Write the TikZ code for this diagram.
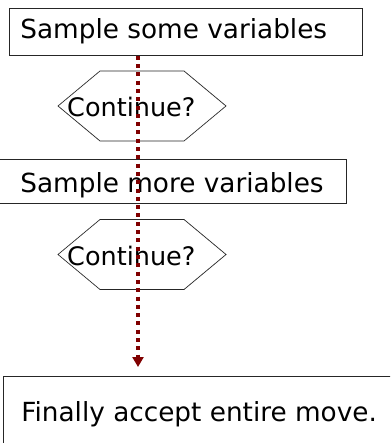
\documentclass[tikz,border=0pt]{standalone}
\usepackage{fontspec}
\setmainfont{DejaVu Sans}
\usetikzlibrary{arrows.meta}
\definecolor{darkred}{RGB}{128,0,0}

\begin{document}
\begin{tikzpicture}[x=1pt,y=-1pt,
  stage/.style={draw=black!85,line width=0.8pt,inner sep=0pt,anchor=north west,font=\fontsize{26.3}{30}\selectfont},
  query/.style={anchor=base west,inner sep=0pt,font=\fontsize{25.5}{30}\selectfont},
  hexa/.style={draw=black!85,line width=0.7pt},
  flow/.style={draw=darkred,line width=4pt,dash pattern=on 4pt off 4.3pt,-{Triangle[width=11pt,length=10pt]},shorten >=9pt}]
\useasboundingbox (0,0) rectangle (390,443);
\clip (0,0) rectangle (390,443);
\fill[white] (0,0) rectangle (390,443);

\coordinate (spine) at (138,0);

\node[stage,text height=30pt,text depth=17pt] (first) at (9,8)
  {\makebox[353pt][l]{\hspace{11pt}Sample some variables}};
\node[stage,text height=33.5pt,text depth=10.5pt] (second) at (-3,159)
  {\makebox[349pt][l]{\hspace{23pt}Sample more variables}};
\node[stage,text height=45.5pt,text depth=54.5pt] (accept) at (3,376)
  {\makebox[420pt][l]{\hspace{18pt}Finally accept entire move.}};

\foreach \n/\y in {1/106,2/254.5}{
  \coordinate (hex\n) at (142,\y);
  \draw[hexa] (hex\n) +(-84,0) -- +(-42,-35) -- +(42,-35) -- +(84,0) -- +(42,35) -- +(-42,35) -- cycle;
  \node[query] (ask\n) at (67,\y+11) {Continue?};
}

\draw[flow] (first.south -| spine) -- (accept.north -| spine);
\end{tikzpicture}
\end{document}
